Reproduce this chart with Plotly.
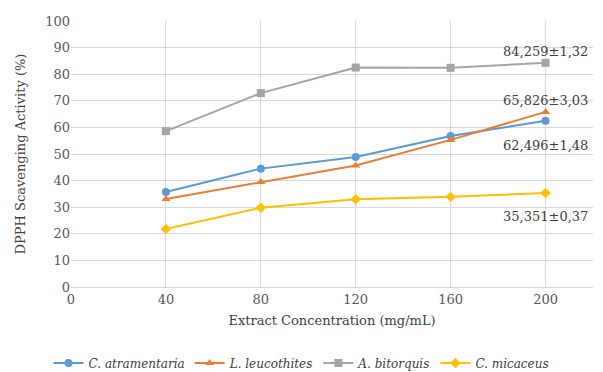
import plotly.graph_objects as go

concentration = [40, 80, 120, 160, 200]
c_atramentaria = [35.7, 44.5, 48.9, 56.8, 62.496]
l_leucothites = [33.1, 39.5, 45.7, 55.3, 65.826]
a_bitorquis = [58.6, 72.9, 82.5, 82.4, 84.259]
c_micaceus = [21.8, 29.8, 33.0, 33.9, 35.351]

series_names = ["<i>C. atramentaria</i>", "<i>L. leucothites</i>", "<i>A. bitorquis</i>", "<i>C. micaceus</i>"]
series_values = [c_atramentaria, l_leucothites, a_bitorquis, c_micaceus]
colors = ["#5B9BD5", "#ED7D31", "#A5A5A5", "#FFC000"]
symbols = ["circle", "triangle-up", "square", "diamond"]

label_texts = ["84,259±1,32", "65,826±3,03", "62,496±1,48", "35,351±0,37"]
label_y = [88.5, 70.2, 53.3, 26.5]

FONT = "DejaVu Serif"

fig = go.Figure()
for name, vals, col, sym in zip(series_names, series_values, colors, symbols):
    fig.add_trace(go.Scatter(
        x=concentration, y=vals, mode="lines+markers", name=name,
        line=dict(color=col, width=2),
        marker=dict(symbol=sym, size=8, color=col),
    ))

for t, yv in zip(label_texts, label_y):
    fig.add_annotation(x=concentration[-1], y=yv, text=t, showarrow=False,
                       font=dict(family=FONT, size=13, color="#404040"))

fig.update_layout(
    width=603, height=372,
    margin=dict(l=71, r=10, t=21, b=85, autoexpand=False),
    plot_bgcolor="white", paper_bgcolor="white",
    font=dict(family=FONT, size=13, color="#595959"),
    showlegend=True,
    legend=dict(orientation="h", x=0.5, xanchor="center", xref="container",
                y=-0.286, yanchor="middle",
                font=dict(family=FONT, size=12, color="#404040"), tracegroupgap=0),
    xaxis=dict(range=[0, 220], tickvals=[0, 40, 80, 120, 160, 200], showgrid=True,
               gridcolor="#D9D9D9", zeroline=False, showline=True, linecolor="#D9D9D9",
               ticks="", automargin=False,
               title=dict(text="Extract Concentration (mg/mL)", standoff=10,
                          font=dict(family=FONT, size=13, color="#404040"))),
    yaxis=dict(range=[0, 100], dtick=10, showgrid=True, gridcolor="#D9D9D9",
               zeroline=False, showline=False, ticks="", automargin=False,
               title=dict(text="DPPH Scavenging Activity (%)", standoff=16,
                          font=dict(family=FONT, size=13, color="#404040"))),
)

fig.write_html("out.html", config={"displayModeBar": False},
               post_script="document.body.style.margin='0';document.body.style.overflow='hidden';")
